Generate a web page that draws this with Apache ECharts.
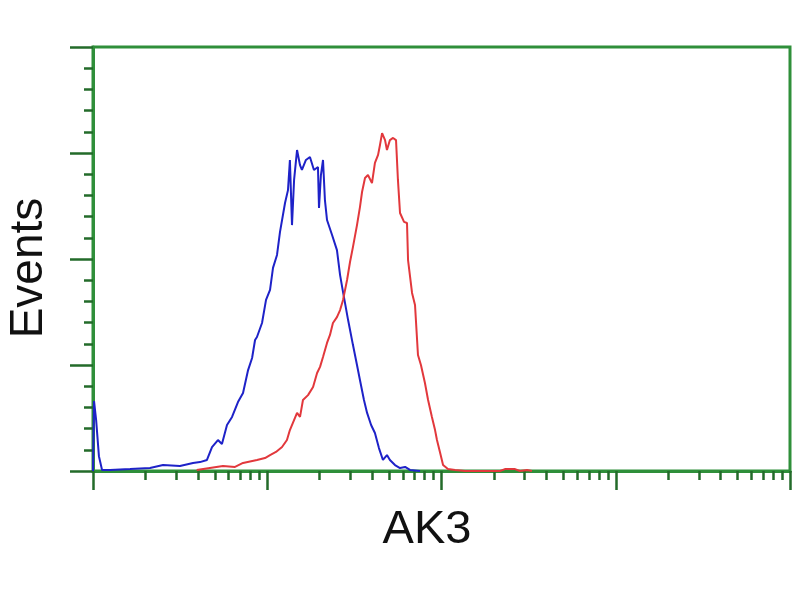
<!DOCTYPE html>
<html>
<head>
<meta charset="utf-8">
<script src="https://cdn.jsdelivr.net/npm/echarts@6/dist/echarts.min.js"></script>
<style>
html,body{margin:0;padding:0;background:#fff;}
#chart{width:800px;height:600px;}
</style>
</head>
<body>
<div id="chart"></div>
<script>
// Fluorescence in decades (log10), events counts
var blueX = [0.0, 0.006, 0.012, 0.018, 0.026, 0.034, 0.045, 0.052, 0.06, 0.098, 0.213, 0.327, 0.402, 0.499, 0.574, 0.614, 0.654, 0.683, 0.717, 0.740, 0.769, 0.798, 0.832, 0.861, 0.890, 0.913, 0.930, 0.941, 0.970, 0.993, 1.016, 1.033, 1.056, 1.073, 1.102, 1.119, 1.130, 1.142, 1.154, 1.171, 1.188, 1.199, 1.222, 1.245, 1.268, 1.291, 1.297, 1.308, 1.320, 1.331, 1.343, 1.372, 1.400, 1.418, 1.435, 1.464, 1.492, 1.515, 1.532, 1.555, 1.573, 1.596, 1.618, 1.641, 1.664, 1.687, 1.704, 1.733, 1.762, 1.791, 1.819, 1.877];
var blueY = [0, 33, 33, 24, 24, 7, 7, 0.5, 0.5, 0.5, 0.9, 1.4, 2.8, 2.4, 3.8, 4.2, 5.2, 11.3, 14.6, 12.7, 21.7, 25.5, 32.5, 36.8, 47.6, 53.3, 61.8, 63.2, 69.8, 80.7, 85.4, 95.8, 101.9, 112.7, 126.4, 132.5, 146.7, 116.0, 137.3, 151.4, 144.3, 142.0, 146.7, 148.1, 142.0, 143.4, 124.1, 139.6, 146.7, 127.8, 118.4, 111.3, 104.2, 92.4, 84.4, 71.2, 59.4, 50.0, 42.9, 33.5, 27.4, 21.7, 17.9, 10.8, 5.2, 7.5, 5.2, 2.8, 1.4, 1.9, 0.5, 0];

var redX = [0.595, 0.746, 0.815, 0.861, 0.941, 0.987, 1.016, 1.050, 1.085, 1.113, 1.130, 1.171, 1.188, 1.205, 1.234, 1.263, 1.286, 1.303, 1.320, 1.343, 1.360, 1.377, 1.400, 1.418, 1.435, 1.458, 1.475, 1.492, 1.515, 1.532, 1.544, 1.561, 1.578, 1.601, 1.618, 1.636, 1.647, 1.659, 1.676, 1.687, 1.704, 1.722, 1.739, 1.750, 1.762, 1.785, 1.802, 1.808, 1.831, 1.848, 1.865, 1.882, 1.905, 1.923, 1.945, 1.963, 1.974, 1.991, 2.009, 2.037, 2.078, 2.135, 2.336, 2.364, 2.422, 2.450, 2.491, 2.519];
var redY = [0.5, 2.4, 1.9, 3.8, 5.2, 6.1, 7.5, 9.0, 11.3, 14.6, 19.3, 27.4, 25.5, 33.5, 35.8, 39.6, 46.2, 49.1, 53.8, 60.4, 64.2, 69.8, 72.6, 75.9, 80.7, 90.1, 98.6, 105.7, 116.0, 124.5, 131.6, 138.2, 139.6, 135.8, 145.3, 149.1, 153.8, 159.4, 156.1, 151.4, 156.1, 157.1, 156.1, 137.3, 121.7, 117.5, 117.0, 99.5, 84.0, 78.3, 54.7, 50.0, 41.5, 33.5, 25.5, 19.3, 14.6, 9.0, 2.8, 0.9, 0.5, 0, 0, 0.9, 0.9, 0, 0.5, 0];

var xMajorTicks = [0, 1, 2, 3, 4];
var yMajorInterval = 50;
var yMax = 200;

var xMinorTicks = [];
for (var d = 0; d < 4; d++) {
  for (var m = 2; m <= 9; m++) xMinorTicks.push(d + Math.log10(m));
}

function pairs(xs, ys) {
  var out = [];
  for (var i = 0; i < xs.length; i++) out.push([xs[i], ys[i]]);
  return out;
}

var green = '#2f8f3a';
var tickGreen = '#236b2a';

var chart = echarts.init(document.getElementById('chart'), null, {renderer: 'canvas'});
chart.setOption({
  animation: false,
  backgroundColor: '#ffffff',
  grid: {left: 93, right: 10, top: 47, bottom: 129, show: true, borderColor: green, borderWidth: 3, backgroundColor: 'transparent'},
  xAxis: [
    {
      type: 'value', min: 0, max: 4, position: 'bottom',
      axisLine: {show: true, onZero: false, lineStyle: {color: green, width: 3}},
      axisTick: {show: true, customValues: xMajorTicks, length: 19, lineStyle: {color: tickGreen, width: 2.5}},
      axisLabel: {show: false}, splitLine: {show: false}
    },
    {
      type: 'value', min: 0, max: 4, position: 'top', offset: -424,
      axisLine: {show: false, onZero: false},
      axisTick: {show: true, inside: true, customValues: xMinorTicks, length: 9, lineStyle: {color: tickGreen, width: 2.5}},
      axisLabel: {show: false}, splitLine: {show: false}
    }
  ],
  yAxis: {
    type: 'value', min: 0, max: yMax, interval: yMajorInterval,
    axisLine: {show: true, onZero: false, lineStyle: {color: green, width: 3}},
    axisTick: {show: true, length: 23, lineStyle: {color: tickGreen, width: 2.5}},
    minorTick: {show: true, splitNumber: 5, length: 9, lineStyle: {color: tickGreen, width: 2.5}},
    axisLabel: {show: false}, splitLine: {show: false}, minorSplitLine: {show: false}
  },
  graphic: [
    {type: 'text', x: 29, y: 268, rotation: Math.PI / 2,
     style: {text: 'Events', font: '46px "Liberation Sans", Arial, sans-serif', fill: '#111', textAlign: 'center', textVerticalAlign: 'middle'}},
    {type: 'text', x: 427, y: 530,
     style: {text: 'AK3', font: '47px "Liberation Sans", Arial, sans-serif', fill: '#111', textAlign: 'center', textVerticalAlign: 'middle'}}
  ],
  series: [
    {type: 'line', name: 'control', xAxisIndex: 0, data: pairs(blueX, blueY), showSymbol: false, lineStyle: {color: '#1e22c8', width: 2}, z: 3},
    {type: 'line', name: 'AK3', xAxisIndex: 0, data: pairs(redX, redY), showSymbol: false, lineStyle: {color: '#e2383c', width: 2}, z: 4}
  ]
});
</script>
</body>
</html>
